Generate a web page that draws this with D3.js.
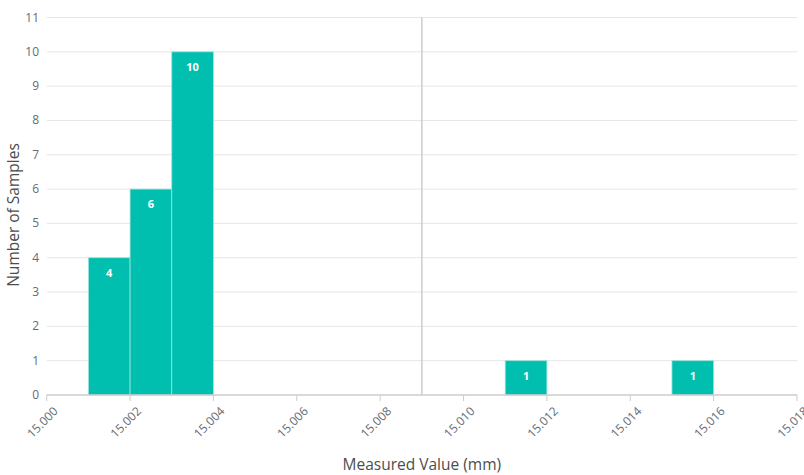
<!DOCTYPE html>
<html>
<head>
<meta charset="utf-8">
<script src="https://cdn.jsdelivr.net/npm/d3@7"></script>
<style>
  body { margin: 0; background: #fff; }
  svg { display: block; font-family: "Open Sans", sans-serif; }
</style>
</head>
<body>
<div id="chart"></div>
<script>
// histogram bins (start of each 0.001 mm bin) and their counts
var binStarts = [15.001, 15.002, 15.003, 15.011, 15.015];
var binCounts = [4, 6, 10, 1, 1];
var binWidth = 0.001;

// axis ticks
var xTicks = [15.000, 15.002, 15.004, 15.006, 15.008, 15.010, 15.012, 15.014, 15.016, 15.018];
var yTicks = [0, 1, 2, 3, 4, 5, 6, 7, 8, 9, 10, 11];

// vertical marker line
var markerValue = 15.009;

var w = 804, h = 475;
var plotLeft = 46.7, plotRight = 797, plotTop = 17.5, plotBottom = 395;

var xScale = d3.scaleLinear().domain([15.000, 15.018]).range([plotLeft, plotRight]);
var yScale = d3.scaleLinear().domain([0, 11]).range([plotBottom, plotTop]);

var svg = d3.select("#chart").append("svg")
    .attr("width", w)
    .attr("height", h);

// horizontal gridlines
svg.selectAll("line.grid")
    .data(yTicks.slice(1))
    .enter()
    .append("line")
    .attr("class", "grid")
    .attr("x1", plotLeft)
    .attr("x2", plotRight)
    .attr("y1", function(d) { return yScale(d); })
    .attr("y2", function(d) { return yScale(d); })
    .attr("stroke", "#e6e6e6")
    .attr("stroke-width", 1);

// y labels
svg.selectAll("text.ylab")
    .data(yTicks)
    .enter()
    .append("text")
    .attr("class", "ylab")
    .attr("x", 39)
    .attr("y", function(d) { return yScale(d) + 4; })
    .attr("text-anchor", "end")
    .style("font-size", "12px")
    .style("fill", "#666b75")
    .text(function(d) { return d; });

// marker line
svg.append("line")
    .attr("x1", xScale(markerValue))
    .attr("x2", xScale(markerValue))
    .attr("y1", plotTop)
    .attr("y2", plotBottom)
    .attr("stroke", "#cccccc")
    .attr("stroke-width", 1.5);

// bars
var bins = binStarts.map(function(s, i) { return { start: s, count: binCounts[i] }; });

svg.selectAll("rect.bar")
    .data(bins)
    .enter()
    .append("rect")
    .attr("class", "bar")
    .attr("x", function(d) { return xScale(d.start); })
    .attr("y", function(d) { return yScale(d.count); })
    .attr("width", function(d) { return xScale(d.start + binWidth) - xScale(d.start); })
    .attr("height", function(d) { return plotBottom - yScale(d.count); })
    .attr("fill", "#00bfae")
    .attr("stroke", "#9fe3dc")
    .attr("stroke-width", 0.8);

svg.selectAll("text.barlab")
    .data(bins)
    .enter()
    .append("text")
    .attr("class", "barlab")
    .attr("x", function(d) { return xScale(d.start + binWidth / 2); })
    .attr("y", function(d) { return yScale(d.count) + 19; })
    .attr("text-anchor", "middle")
    .style("font-size", "11px")
    .style("font-weight", "bold")
    .style("fill", "#ffffff")
    .text(function(d) { return d.count; });

// x axis line and ticks
svg.append("line")
    .attr("x1", plotLeft)
    .attr("x2", plotRight)
    .attr("y1", plotBottom)
    .attr("y2", plotBottom)
    .attr("stroke", "#cccccc")
    .attr("stroke-width", 1.5);

svg.selectAll("line.xtick")
    .data(xTicks)
    .enter()
    .append("line")
    .attr("class", "xtick")
    .attr("x1", function(d) { return xScale(d); })
    .attr("x2", function(d) { return xScale(d); })
    .attr("y1", plotBottom)
    .attr("y2", plotBottom + 6)
    .attr("stroke", "#cccccc")
    .attr("stroke-width", 1);

svg.selectAll("text.xlab")
    .data(xTicks)
    .enter()
    .append("text")
    .attr("class", "xlab")
    .attr("text-anchor", "end")
    .style("font-size", "12px")
    .style("fill", "#666b75")
    .text(function(d) { return d3.format(".3f")(d); })
    .attr("transform", function(d) {
        return "translate(" + (xScale(d) + 12) + "," + (plotBottom + 17) + ") rotate(-45)";
    });

// axis titles
svg.append("text")
    .attr("text-anchor", "middle")
    .attr("transform", "translate(19,215) rotate(-90)")
    .style("font-size", "15.5px")
    .style("fill", "#4d4d4d")
    .text("Number of Samples");

svg.append("text")
    .attr("text-anchor", "middle")
    .attr("x", (plotLeft + plotRight) / 2)
    .attr("y", 470)
    .style("font-size", "15.5px")
    .style("fill", "#4d4d4d")
    .text("Measured Value (mm)");
</script>
</body>
</html>
